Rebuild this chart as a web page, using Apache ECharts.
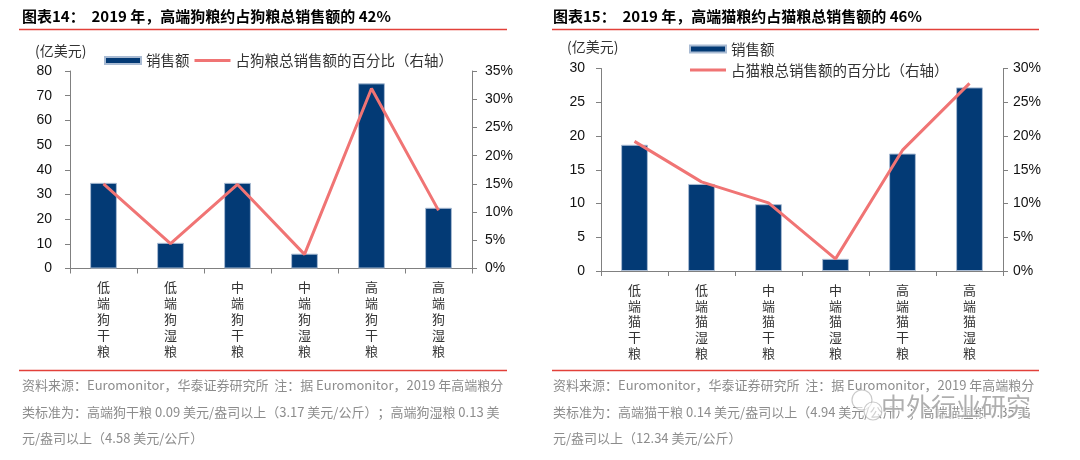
<!DOCTYPE html>
<html><head><meta charset="utf-8">
<script src="https://cdn.jsdelivr.net/npm/echarts/dist/echarts.min.js"></script>
<style>html,body{margin:0;padding:0;background:#fff}#c{width:1080px;height:460px}</style>
</head><body><div id="c"></div><script>
// ---- data ----
const dogCategories = ['低端狗干粮','低端狗湿粮','中端狗干粮','中端狗湿粮','高端狗干粮','高端狗湿粮'];
const dogSales = [34.7, 10.4, 34.7, 6.0, 75.0, 24.6];          // 亿美元
const dogShare = [15.0, 4.4, 14.9, 2.5, 31.9, 10.3];           // %
const catCategories = ['低端猫干粮','低端猫湿粮','中端猫干粮','中端猫湿粮','高端猫干粮','高端猫湿粮'];
const catSales = [18.7, 12.9, 9.9, 1.8, 17.4, 27.2];
const catShare = [19.2, 13.2, 10.1, 1.8, 17.9, 27.8];
const dogLeftTicks = [0,10,20,30,40,50,60,70,80];
const dogRightTicks = [0,5,10,15,20,25,30,35];
const catLeftTicks = [0,5,10,15,20,25,30];
const catRightTicks = [0,5,10,15,20,25,30];
const dogBarName = '销售额', dogLineName = '占狗粮总销售额的百分比（右轴）';
const catBarName = '销售额', catLineName = '占猫粮总销售额的百分比（右轴）';
const title1 = '图表14：  2019 年，高端狗粮约占狗粮总销售额的 42%';
const title2 = '图表15：  2019 年，高端猫粮约占猫粮总销售额的 46%';
const note1 = ['资料来源：Euromonitor，华泰证券研究所  注：据 Euromonitor，2019 年高端粮分',
               '类标准为：高端狗干粮 0.09 美元/盎司以上（3.17 美元/公斤）；高端狗湿粮 0.13 美',
               '元/盎司以上（4.58 美元/公斤）'];
const note2 = ['资料来源：Euromonitor，华泰证券研究所  注：据 Euromonitor，2019 年高端粮分',
               '类标准为：高端猫干粮 0.14 美元/盎司以上（4.94 美元/公斤）；高端猫湿粮 0.35 美',
               '元/盎司以上（12.34 美元/公斤）'];
const unitLabel = '(亿美元)';

// ---- styles ----
const CJK = '"Noto Sans CJK SC", sans-serif';
const NUM = '"Liberation Sans", Arial, sans-serif';
const BAR = '#033A75', LINE = '#F07474', AX = '#808080', RED = '#E2403A', GRAY = '#8C8C8C';
const LINE_ICON = 'path://M0,0H36V3H0Z';
const rng = t => ({min: t[0], max: t[t.length-1], interval: t[1]-t[0]});

function xAx(grid, cats){
  return {type:'category', gridIndex:grid, data:cats,
    axisLine:{lineStyle:{color:AX, width:1}},
    axisTick:{show:true, length:5, lineStyle:{color:AX}},
    axisLabel:{interval:0, margin:11, fontSize:13, lineHeight:15.8, color:'#333', fontFamily:CJK,
      formatter: v => v.split('').join('\n')}};
}
function yAx(grid, ticks, pos, pct, margin){
  return Object.assign({type:'value', gridIndex:grid, position:pos, splitLine:{show:false},
    axisLine:{show:true, lineStyle:{color:AX}},
    axisTick:{show:true, length:5, lineStyle:{color:AX}},
    axisLabel:{fontSize:14, color:'#111', fontFamily:NUM, margin:margin,
      formatter: pct ? '{value}%' : '{value}'}}, rng(ticks));
}
function hline(x1, x2, y){
  return {type:'line', silent:true, shape:{x1:x1, y1:y, x2:x2, y2:y}, style:{stroke:RED, lineWidth:1.5}};
}
const legendCommon = {itemWidth:36, itemHeight:7, padding:0,
  textStyle:{fontSize:14.5, color:'#333', fontFamily:CJK, lineHeight:16}};

const graphics = [
  {type:'text', left:22, top:9, silent:true, style:{text:title1, fontSize:15, fontWeight:'bold', fill:'#000', fontFamily:CJK}},
  {type:'text', left:553, top:9, silent:true, style:{text:title2, fontSize:15, fontWeight:'bold', fill:'#000', fontFamily:CJK}},
  hline(19, 507, 29.5), hline(552, 1039, 29.5),
  hline(19, 507, 370.5), hline(552, 1039, 370.5),
  {type:'text', left:35, top:44, silent:true, style:{text:unitLabel, fontSize:14, fill:'#333', fontFamily:CJK}},
  {type:'text', left:567, top:40, silent:true, style:{text:unitLabel, fontSize:14, fill:'#333', fontFamily:CJK}}
];
note1.forEach((s,i)=>graphics.push({type:'text', left:22, top:379+i*26.5, silent:true, style:{text:s, fontSize:13, fill:GRAY, fontFamily:CJK}}));
note2.forEach((s,i)=>graphics.push({type:'text', left:553, top:379+i*26.5, silent:true, style:{text:s, fontSize:13, fill:GRAY, fontFamily:CJK}}));
// watermark
graphics.push({type:'circle', silent:true, shape:{cx:862, cy:400, r:10}, style:{fill:'rgba(255,255,255,0.6)', stroke:'rgba(150,150,150,0.5)', lineWidth:1.2}, z:100});
graphics.push({type:'circle', silent:true, shape:{cx:873, cy:411, r:9}, style:{fill:'rgba(255,255,255,0.6)', stroke:'rgba(150,150,150,0.5)', lineWidth:1.2}, z:100});
graphics.push({type:'text', left:880, top:393, silent:true, z:100,
  style:{text:'中外行业研究', fontSize:25, fill:'rgba(110,110,110,0.55)', stroke:'rgba(255,255,255,0.8)', lineWidth:2, fontFamily:CJK}});

const option = {
  animation:false,
  backgroundColor:'#fff',
  textStyle:{fontFamily:CJK},
  grid:[
    {left:70, right:1080-472, top:71, bottom:460-268.5},
    {left:601, right:1080-1003, top:68.5, bottom:460-271}
  ],
  legend:[
    Object.assign({left:104, top:52.5, orient:'horizontal', itemGap:5,
      data:[{name:dogBarName, icon:'rect'}, {name:dogLineName, icon:LINE_ICON}]}, legendCommon),
    Object.assign({left:689, top:41, orient:'vertical', itemGap:5,
      data:[{name:catBarName, icon:'rect'}, {name:catLineName, icon:LINE_ICON}]}, legendCommon)
  ],
  xAxis:[xAx(0, dogCategories), xAx(1, catCategories)],
  yAxis:[
    yAx(0, dogLeftTicks, 'left', false, 18),
    yAx(0, dogRightTicks, 'right', true, 13),
    yAx(1, catLeftTicks, 'left', false, 16),
    yAx(1, catRightTicks, 'right', true, 10)
  ],
  series:[
    {type:'bar', name:dogBarName, xAxisIndex:0, yAxisIndex:0, data:dogSales, barWidth:'40%',
      itemStyle:{color:BAR, borderColor:'#A9BBD3', borderWidth:1}},
    {type:'line', name:dogLineName, xAxisIndex:0, yAxisIndex:1, data:dogShare, symbol:'none', z:5,
      lineStyle:{color:LINE, width:3}, itemStyle:{color:LINE}},
    {type:'bar', name:catBarName, xAxisIndex:1, yAxisIndex:2, data:catSales, barWidth:'40%',
      itemStyle:{color:BAR, borderColor:'#A9BBD3', borderWidth:1}},
    {type:'line', name:catLineName, xAxisIndex:1, yAxisIndex:3, data:catShare, symbol:'none', z:5,
      lineStyle:{color:LINE, width:3}, itemStyle:{color:LINE}}
  ],
  graphic: graphics
};
const chart = echarts.init(document.getElementById('c'), null, {renderer:'canvas'});
chart.setOption(option);
</script></body></html>
